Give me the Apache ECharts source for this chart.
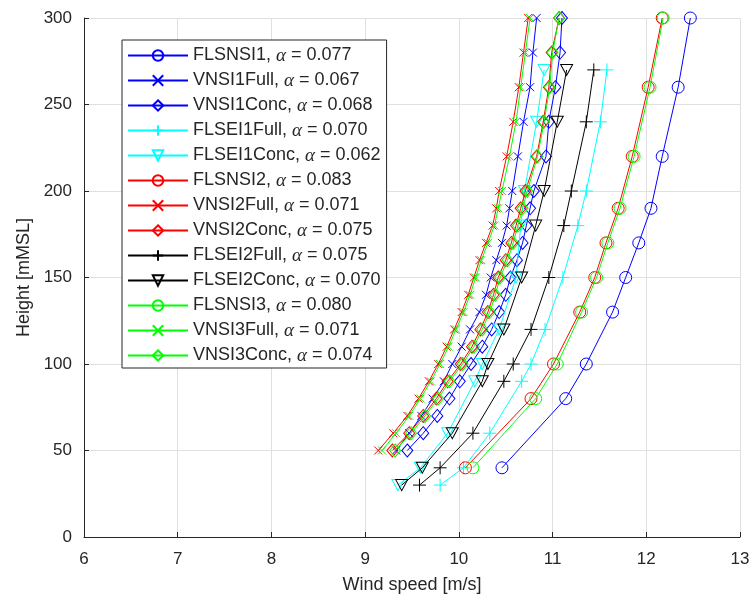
<!DOCTYPE html>
<html>
<head>
<meta charset="utf-8">
<script src="https://cdn.jsdelivr.net/npm/echarts@6/dist/echarts.min.js"></script>
<style>
  html, body { margin: 0; padding: 0; background: #ffffff; }
  #chart { width: 753px; height: 599px; }
</style>
</head>
<body>
<div id="chart"></div>
<script>
// Measurement heights [mMSL]
const hFLSNSI = [40, 80, 100, 130, 150, 170, 190, 220, 260, 300];
const hVNSI = [50, 60, 70, 80, 90, 100, 110, 120, 130, 140, 150, 160, 170, 180, 190, 200, 220, 240, 260, 280, 300];
const hFLSEI = [30, 40, 60, 90, 100, 120, 150, 180, 200, 240, 270];

// Mean wind speed profiles [m/s]
const FLSNSI1   = [10.46, 11.14, 11.36, 11.64, 11.78, 11.92, 12.05, 12.17, 12.34, 12.47];
const VNSI1Full = [9.33, 9.47, 9.60, 9.72, 9.84, 9.93, 10.03, 10.12, 10.22, 10.29, 10.34, 10.40, 10.46, 10.51, 10.54, 10.57, 10.63, 10.69, 10.76, 10.79, 10.83];
const VNSI1Conc = [9.45, 9.62, 9.77, 9.90, 10.01, 10.13, 10.25, 10.35, 10.43, 10.50, 10.55, 10.62, 10.68, 10.72, 10.76, 10.80, 10.93, 10.96, 11.03, 11.08, 11.10];
const FLSEI1Full = [9.80, 10.05, 10.33, 10.67, 10.77, 10.92, 11.11, 11.27, 11.36, 11.51, 11.58];
const FLSEI1Conc = [9.35, 9.59, 9.88, 10.17, 10.25, 10.43, 10.61, 10.66, 10.70, 10.83, 10.91];
const FLSNSI2   = [10.07, 10.77, 11.01, 11.29, 11.45, 11.57, 11.70, 11.85, 12.02, 12.17];
const VNSI2Full = [9.14, 9.30, 9.45, 9.57, 9.68, 9.78, 9.87, 9.95, 10.03, 10.10, 10.16, 10.22, 10.29, 10.36, 10.40, 10.43, 10.51, 10.58, 10.64, 10.69, 10.74];
const VNSI2Conc = [9.29, 9.47, 9.62, 9.76, 9.88, 10.02, 10.14, 10.23, 10.31, 10.37, 10.42, 10.50, 10.56, 10.61, 10.66, 10.71, 10.83, 10.90, 10.96, 10.99, 11.07];
const FLSEI2Full = [9.58, 9.80, 10.15, 10.48, 10.58, 10.77, 10.96, 11.12, 11.20, 11.36, 11.44];
const FLSEI2Conc = [9.39, 9.61, 9.93, 10.25, 10.31, 10.48, 10.67, 10.82, 10.91, 11.05, 11.15];
const FLSNSI3   = [10.15, 10.82, 11.05, 11.31, 11.47, 11.59, 11.72, 11.87, 12.04, 12.18];
const VNSI3Full = [9.18, 9.33, 9.47, 9.59, 9.70, 9.80, 9.89, 9.97, 10.05, 10.12, 10.18, 10.24, 10.31, 10.38, 10.42, 10.46, 10.54, 10.61, 10.66, 10.71, 10.76];
const VNSI3Conc = [9.32, 9.49, 9.64, 9.78, 9.90, 10.04, 10.16, 10.25, 10.33, 10.39, 10.44, 10.52, 10.58, 10.63, 10.68, 10.73, 10.84, 10.91, 10.97, 11.00, 11.07];

// Series names and fitted shear exponents
const names  = ['FLSNSI1', 'VNSI1Full', 'VNSI1Conc', 'FLSEI1Full', 'FLSEI1Conc', 'FLSNSI2', 'VNSI2Full', 'VNSI2Conc', 'FLSEI2Full', 'FLSEI2Conc', 'FLSNSI3', 'VNSI3Full', 'VNSI3Conc'];
const alphas = ['0.077', '0.067', '0.068', '0.070', '0.062', '0.083', '0.071', '0.075', '0.075', '0.070', '0.080', '0.071', '0.074'];

// Axis ticks
const xTicks = [6, 7, 8, 9, 10, 11, 12, 13];
const yTicks = [0, 50, 100, 150, 200, 250, 300];

const speeds  = [FLSNSI1, VNSI1Full, VNSI1Conc, FLSEI1Full, FLSEI1Conc, FLSNSI2, VNSI2Full, VNSI2Conc, FLSEI2Full, FLSEI2Conc, FLSNSI3, VNSI3Full, VNSI3Conc];
const heights = [hFLSNSI, hVNSI, hVNSI, hFLSEI, hFLSEI, hFLSNSI, hVNSI, hVNSI, hFLSEI, hFLSEI, hFLSNSI, hVNSI, hVNSI];

const BLUE = '#0000ff', CYAN = '#00ffff', RED = '#ff0000', BLACK = '#000000', GREEN = '#00ff00';
const colors = [BLUE, BLUE, BLUE, CYAN, CYAN, RED, RED, RED, BLACK, BLACK, GREEN, GREEN, GREEN];

const SYM = {
  o: { symbol: 'circle', size: 12 },
  x: { symbol: 'path://M0,0L10,10M10,0L0,10', size: 8 },
  d: { symbol: 'path://M5,0L10,7L5,14L0,7Z', size: [11, 13] },
  p: { symbol: 'path://M5,0L5,10M0,5L10,5', size: 13 },
  v: { symbol: 'path://M0,0L10,0L5,9Z', size: [12, 11] }
};
const markers = ['o', 'x', 'd', 'p', 'v', 'o', 'x', 'd', 'p', 'v', 'o', 'x', 'd'];

const FONT = '"Liberation Sans", Arial, Helvetica, sans-serif';
const TXT = '#262626';

const series = names.map(function (n, i) {
  const m = SYM[markers[i]];
  return {
    name: n,
    type: 'line',
    data: speeds[i].map(function (v, k) { return [v, heights[i][k]]; }),
    symbol: m.symbol,
    symbolSize: m.size,
    showAllSymbol: true,
    lineStyle: { color: colors[i], width: 1 },
    itemStyle: { color: 'rgba(255,255,255,0)', borderColor: colors[i], borderWidth: 1 },
    emphasis: { disabled: true },
    z: 2 + i * 0.01
  };
});

const chart = echarts.init(document.getElementById('chart'), null, { renderer: 'canvas' });
chart.setOption({
  animation: false,
  backgroundColor: '#ffffff',
  grid: { left: 84, right: 13, top: 18, bottom: 62, containLabel: false },
  xAxis: {
    type: 'value',
    min: xTicks[0],
    max: xTicks[xTicks.length - 1],
    interval: 1,
    name: 'Wind speed [m/s]',
    nameLocation: 'middle',
    nameGap: 39,
    nameTextStyle: { fontFamily: FONT, fontSize: 18, color: TXT },
    axisLine: { show: true, lineStyle: { color: TXT, width: 1 } },
    axisTick: { show: true, inside: true, length: 5, lineStyle: { color: TXT } },
    axisLabel: { fontFamily: FONT, fontSize: 17, color: TXT, margin: 14 },
    splitLine: { show: true, lineStyle: { color: '#e0e0e0', width: 1 } }
  },
  yAxis: {
    type: 'value',
    min: yTicks[0],
    max: yTicks[yTicks.length - 1],
    interval: 50,
    name: 'Height [mMSL]',
    nameLocation: 'middle',
    nameGap: 47,
    nameTextStyle: { fontFamily: FONT, fontSize: 18, color: TXT },
    axisLine: { show: true, lineStyle: { color: TXT, width: 1 } },
    axisTick: { show: true, inside: true, length: 5, lineStyle: { color: TXT } },
    axisLabel: { fontFamily: FONT, fontSize: 17, color: TXT, margin: 12 },
    splitLine: { show: true, lineStyle: { color: '#e0e0e0', width: 1 } }
  },
  legend: {
    orient: 'vertical',
    left: 122,
    top: 40,
    padding: [6, 6, 3, 5],
    itemWidth: 60,
    itemHeight: 13,
    itemGap: 6,
    backgroundColor: '#ffffff',
    borderColor: TXT,
    borderWidth: 1,
    borderRadius: 0,
    selectedMode: false,
    data: names,
    formatter: function (n) {
      const i = names.indexOf(n);
      return '{n|' + n + ', }{a|α}{n| = ' + alphas[i] + '}';
    },
    textStyle: {
      color: TXT,
      fontFamily: FONT,
      fontSize: 18,
      rich: {
        n: { fontFamily: FONT, fontSize: 18, color: TXT, lineHeight: 19 },
        a: { fontFamily: '"Liberation Serif", "DejaVu Serif", serif', fontStyle: 'italic', fontSize: 19, color: TXT, lineHeight: 19 }
      }
    }
  },
  series: series
});
</script>
</body>
</html>
